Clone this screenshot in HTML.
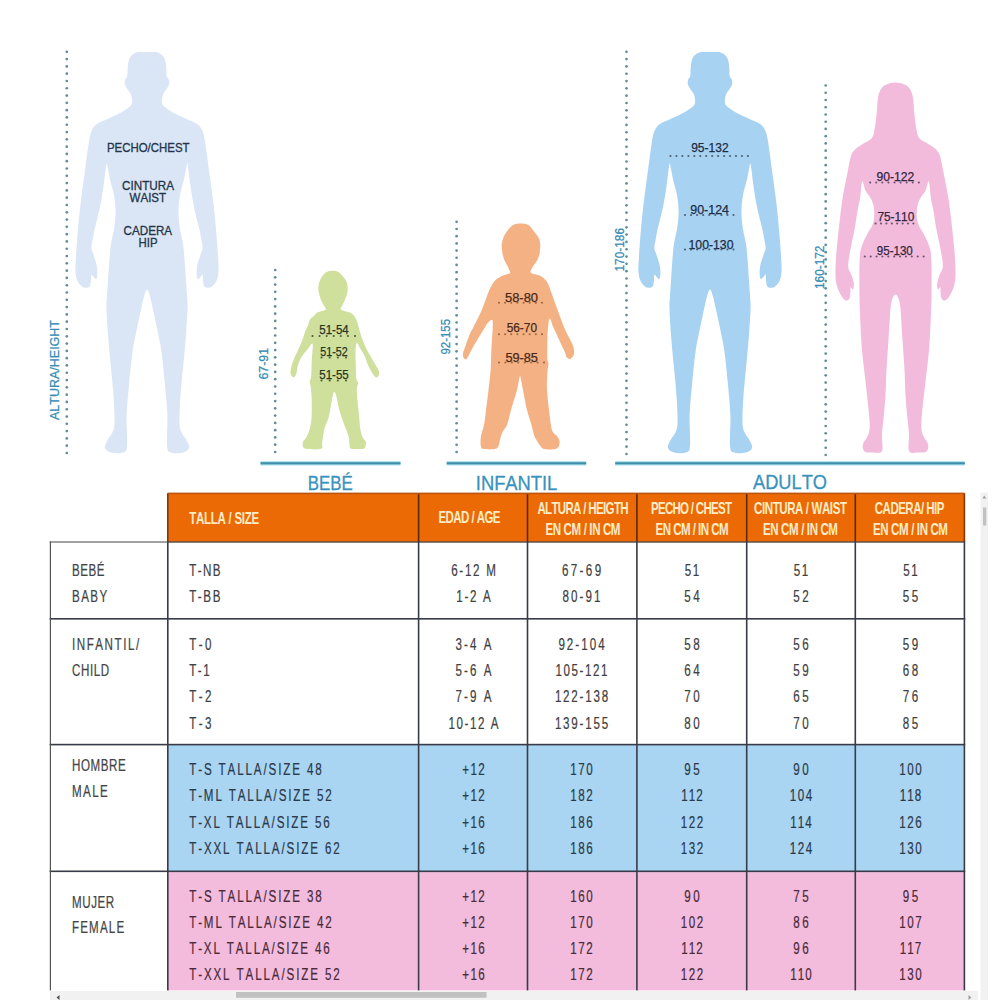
<!DOCTYPE html>
<html lang="es"><head><meta charset="utf-8"><title>Tabla de tallas</title>
<style>
html,body{margin:0;padding:0;background:#fff;width:1000px;height:1000px;overflow:hidden}
svg{display:block}
text{font-kerning:none}
</style></head><body>
<svg width="1000" height="1000" viewBox="0 0 1000 1000"><path d="M147.00,52.00 C149.00,52.00 151.23,52.02 153.00,52.10 C154.77,52.18 155.97,51.88 157.60,52.50 C159.23,53.12 161.47,54.22 162.80,55.80 C164.13,57.38 165.00,59.63 165.60,62.00 C166.20,64.37 166.20,67.58 166.40,70.00 C166.60,72.42 166.40,74.92 166.80,76.50 C167.20,78.08 168.40,78.25 168.80,79.50 C169.20,80.75 169.50,82.50 169.20,84.00 C168.90,85.50 167.95,86.92 167.00,88.50 C166.05,90.08 164.30,91.92 163.50,93.50 C162.70,95.08 162.45,96.42 162.20,98.00 C161.95,99.58 161.62,101.53 162.00,103.00 C162.38,104.47 162.75,105.27 164.50,106.80 C166.25,108.33 169.00,110.23 172.50,112.20 C176.00,114.17 181.42,116.63 185.50,118.60 C189.58,120.57 194.25,122.10 197.00,124.00 C199.75,125.90 200.70,127.33 202.00,130.00 C203.30,132.67 203.60,133.00 204.80,140.00 C206.00,147.00 207.75,161.33 209.20,172.00 C210.65,182.67 212.27,193.33 213.50,204.00 C214.73,214.67 215.82,226.67 216.60,236.00 C217.38,245.33 217.88,254.00 218.20,260.00 C218.52,266.00 218.78,268.50 218.50,272.00 C218.22,275.50 217.58,278.58 216.50,281.00 C215.42,283.42 213.45,285.37 212.00,286.50 C210.55,287.63 209.10,287.85 207.80,287.80 C206.50,287.75 205.00,287.42 204.20,286.20 C203.40,284.98 203.27,282.45 203.00,280.50 C202.73,278.55 203.03,275.08 202.60,274.50 C202.17,273.92 201.23,276.25 200.40,277.00 C199.57,277.75 198.23,279.75 197.60,279.00 C196.97,278.25 196.60,275.00 196.60,272.50 C196.60,270.00 196.93,267.00 197.60,264.00 C198.27,261.00 199.77,257.17 200.60,254.50 C201.43,251.83 202.47,250.42 202.60,248.00 C202.73,245.58 201.87,242.83 201.40,240.00 C200.93,237.17 200.43,234.00 199.80,231.00 C199.17,228.00 198.67,226.50 197.60,222.00 C196.53,217.50 194.58,210.00 193.40,204.00 C192.22,198.00 191.32,191.67 190.50,186.00 C189.68,180.33 189.02,173.75 188.50,170.00 C187.98,166.25 187.78,163.83 187.40,163.50 C187.02,163.17 186.80,165.25 186.20,168.00 C185.60,170.75 184.87,175.33 183.80,180.00 C182.73,184.67 180.70,190.67 179.80,196.00 C178.90,201.33 178.40,206.67 178.40,212.00 C178.40,217.33 179.03,222.67 179.80,228.00 C180.57,233.33 182.20,238.67 183.00,244.00 C183.80,249.33 184.07,253.33 184.60,260.00 C185.13,266.67 185.75,277.33 186.20,284.00 C186.65,290.67 187.08,295.67 187.30,300.00 C187.52,304.33 187.72,304.17 187.50,310.00 C187.28,315.83 186.65,326.33 186.00,335.00 C185.35,343.67 184.43,353.00 183.60,362.00 C182.77,371.00 181.68,380.00 181.00,389.00 C180.32,398.00 179.58,409.17 179.50,416.00 C179.42,422.83 179.25,425.83 180.50,430.00 C181.75,434.17 185.58,438.00 187.00,441.00 C188.42,444.00 189.67,446.08 189.00,448.00 C188.33,449.92 186.00,451.75 183.00,452.50 C180.00,453.25 173.67,453.58 171.00,452.50 C168.33,451.42 167.60,452.08 167.00,446.00 C166.40,439.92 167.73,426.17 167.40,416.00 C167.07,405.83 165.98,395.67 165.00,385.00 C164.02,374.33 162.67,360.67 161.50,352.00 C160.33,343.33 159.25,339.33 158.00,333.00 C156.75,326.67 155.33,320.08 154.00,314.00 C152.67,307.92 151.17,300.58 150.00,296.50 C148.83,292.42 148.00,289.50 147.00,289.50 C146.00,289.50 145.17,292.42 144.00,296.50 C142.83,300.58 141.33,307.92 140.00,314.00 C138.67,320.08 137.25,326.67 136.00,333.00 C134.75,339.33 133.67,343.33 132.50,352.00 C131.33,360.67 129.98,374.33 129.00,385.00 C128.02,395.67 126.93,405.83 126.60,416.00 C126.27,426.17 127.60,439.92 127.00,446.00 C126.40,452.08 125.67,451.42 123.00,452.50 C120.33,453.58 114.00,453.25 111.00,452.50 C108.00,451.75 105.67,449.92 105.00,448.00 C104.33,446.08 105.58,444.00 107.00,441.00 C108.42,438.00 112.25,434.17 113.50,430.00 C114.75,425.83 114.58,422.83 114.50,416.00 C114.42,409.17 113.68,398.00 113.00,389.00 C112.32,380.00 111.23,371.00 110.40,362.00 C109.57,353.00 108.65,343.67 108.00,335.00 C107.35,326.33 106.72,315.83 106.50,310.00 C106.28,304.17 106.48,304.33 106.70,300.00 C106.92,295.67 107.35,290.67 107.80,284.00 C108.25,277.33 108.87,266.67 109.40,260.00 C109.93,253.33 110.20,249.33 111.00,244.00 C111.80,238.67 113.43,233.33 114.20,228.00 C114.97,222.67 115.60,217.33 115.60,212.00 C115.60,206.67 115.10,201.33 114.20,196.00 C113.30,190.67 111.27,184.67 110.20,180.00 C109.13,175.33 108.40,170.75 107.80,168.00 C107.20,165.25 106.98,163.17 106.60,163.50 C106.22,163.83 106.02,166.25 105.50,170.00 C104.98,173.75 104.32,180.33 103.50,186.00 C102.68,191.67 101.78,198.00 100.60,204.00 C99.42,210.00 97.47,217.50 96.40,222.00 C95.33,226.50 94.83,228.00 94.20,231.00 C93.57,234.00 93.07,237.17 92.60,240.00 C92.13,242.83 91.27,245.58 91.40,248.00 C91.53,250.42 92.57,251.83 93.40,254.50 C94.23,257.17 95.73,261.00 96.40,264.00 C97.07,267.00 97.40,270.00 97.40,272.50 C97.40,275.00 97.03,278.25 96.40,279.00 C95.77,279.75 94.43,277.75 93.60,277.00 C92.77,276.25 91.83,273.92 91.40,274.50 C90.97,275.08 91.27,278.55 91.00,280.50 C90.73,282.45 90.60,284.98 89.80,286.20 C89.00,287.42 87.50,287.75 86.20,287.80 C84.90,287.85 83.45,287.63 82.00,286.50 C80.55,285.37 78.58,283.42 77.50,281.00 C76.42,278.58 75.78,275.50 75.50,272.00 C75.22,268.50 75.48,266.00 75.80,260.00 C76.12,254.00 76.62,245.33 77.40,236.00 C78.18,226.67 79.27,214.67 80.50,204.00 C81.73,193.33 83.35,182.67 84.80,172.00 C86.25,161.33 88.00,147.00 89.20,140.00 C90.40,133.00 90.70,132.67 92.00,130.00 C93.30,127.33 94.25,125.90 97.00,124.00 C99.75,122.10 104.42,120.57 108.50,118.60 C112.58,116.63 118.00,114.17 121.50,112.20 C125.00,110.23 127.75,108.33 129.50,106.80 C131.25,105.27 131.62,104.47 132.00,103.00 C132.38,101.53 132.05,99.58 131.80,98.00 C131.55,96.42 131.30,95.08 130.50,93.50 C129.70,91.92 127.95,90.08 127.00,88.50 C126.05,86.92 125.10,85.50 124.80,84.00 C124.50,82.50 124.80,80.75 125.20,79.50 C125.60,78.25 126.80,78.08 127.20,76.50 C127.60,74.92 127.40,72.42 127.60,70.00 C127.80,67.58 127.80,64.37 128.40,62.00 C129.00,59.63 129.87,57.38 131.20,55.80 C132.53,54.22 134.77,53.12 136.40,52.50 C138.03,51.88 139.23,52.18 141.00,52.10 C142.77,52.02 145.00,52.00 147.00,52.00Z" fill="#dae6f5"/>
<path d="M710.00,52.00 C712.00,52.00 714.23,52.02 716.00,52.10 C717.77,52.18 718.97,51.88 720.60,52.50 C722.23,53.12 724.47,54.22 725.80,55.80 C727.13,57.38 728.00,59.63 728.60,62.00 C729.20,64.37 729.20,67.58 729.40,70.00 C729.60,72.42 729.40,74.92 729.80,76.50 C730.20,78.08 731.40,78.25 731.80,79.50 C732.20,80.75 732.50,82.50 732.20,84.00 C731.90,85.50 730.95,86.92 730.00,88.50 C729.05,90.08 727.30,91.92 726.50,93.50 C725.70,95.08 725.45,96.42 725.20,98.00 C724.95,99.58 724.62,101.53 725.00,103.00 C725.38,104.47 725.75,105.27 727.50,106.80 C729.25,108.33 732.00,110.23 735.50,112.20 C739.00,114.17 744.42,116.63 748.50,118.60 C752.58,120.57 757.25,122.10 760.00,124.00 C762.75,125.90 763.70,127.33 765.00,130.00 C766.30,132.67 766.60,133.00 767.80,140.00 C769.00,147.00 770.75,161.33 772.20,172.00 C773.65,182.67 775.27,193.33 776.50,204.00 C777.73,214.67 778.82,226.67 779.60,236.00 C780.38,245.33 780.88,254.00 781.20,260.00 C781.52,266.00 781.78,268.50 781.50,272.00 C781.22,275.50 780.58,278.58 779.50,281.00 C778.42,283.42 776.45,285.37 775.00,286.50 C773.55,287.63 772.10,287.85 770.80,287.80 C769.50,287.75 768.00,287.42 767.20,286.20 C766.40,284.98 766.27,282.45 766.00,280.50 C765.73,278.55 766.03,275.08 765.60,274.50 C765.17,273.92 764.23,276.25 763.40,277.00 C762.57,277.75 761.23,279.75 760.60,279.00 C759.97,278.25 759.60,275.00 759.60,272.50 C759.60,270.00 759.93,267.00 760.60,264.00 C761.27,261.00 762.77,257.17 763.60,254.50 C764.43,251.83 765.47,250.42 765.60,248.00 C765.73,245.58 764.87,242.83 764.40,240.00 C763.93,237.17 763.43,234.00 762.80,231.00 C762.17,228.00 761.67,226.50 760.60,222.00 C759.53,217.50 757.58,210.00 756.40,204.00 C755.22,198.00 754.32,191.67 753.50,186.00 C752.68,180.33 752.02,173.75 751.50,170.00 C750.98,166.25 750.78,163.83 750.40,163.50 C750.02,163.17 749.80,165.25 749.20,168.00 C748.60,170.75 747.87,175.33 746.80,180.00 C745.73,184.67 743.70,190.67 742.80,196.00 C741.90,201.33 741.40,206.67 741.40,212.00 C741.40,217.33 742.03,222.67 742.80,228.00 C743.57,233.33 745.20,238.67 746.00,244.00 C746.80,249.33 747.07,253.33 747.60,260.00 C748.13,266.67 748.75,277.33 749.20,284.00 C749.65,290.67 750.08,295.67 750.30,300.00 C750.52,304.33 750.72,304.17 750.50,310.00 C750.28,315.83 749.65,326.33 749.00,335.00 C748.35,343.67 747.43,353.00 746.60,362.00 C745.77,371.00 744.68,380.00 744.00,389.00 C743.32,398.00 742.58,409.17 742.50,416.00 C742.42,422.83 742.25,425.83 743.50,430.00 C744.75,434.17 748.58,438.00 750.00,441.00 C751.42,444.00 752.67,446.08 752.00,448.00 C751.33,449.92 749.00,451.75 746.00,452.50 C743.00,453.25 736.67,453.58 734.00,452.50 C731.33,451.42 730.60,452.08 730.00,446.00 C729.40,439.92 730.73,426.17 730.40,416.00 C730.07,405.83 728.98,395.67 728.00,385.00 C727.02,374.33 725.67,360.67 724.50,352.00 C723.33,343.33 722.25,339.33 721.00,333.00 C719.75,326.67 718.33,320.08 717.00,314.00 C715.67,307.92 714.17,300.58 713.00,296.50 C711.83,292.42 711.00,289.50 710.00,289.50 C709.00,289.50 708.17,292.42 707.00,296.50 C705.83,300.58 704.33,307.92 703.00,314.00 C701.67,320.08 700.25,326.67 699.00,333.00 C697.75,339.33 696.67,343.33 695.50,352.00 C694.33,360.67 692.98,374.33 692.00,385.00 C691.02,395.67 689.93,405.83 689.60,416.00 C689.27,426.17 690.60,439.92 690.00,446.00 C689.40,452.08 688.67,451.42 686.00,452.50 C683.33,453.58 677.00,453.25 674.00,452.50 C671.00,451.75 668.67,449.92 668.00,448.00 C667.33,446.08 668.58,444.00 670.00,441.00 C671.42,438.00 675.25,434.17 676.50,430.00 C677.75,425.83 677.58,422.83 677.50,416.00 C677.42,409.17 676.68,398.00 676.00,389.00 C675.32,380.00 674.23,371.00 673.40,362.00 C672.57,353.00 671.65,343.67 671.00,335.00 C670.35,326.33 669.72,315.83 669.50,310.00 C669.28,304.17 669.48,304.33 669.70,300.00 C669.92,295.67 670.35,290.67 670.80,284.00 C671.25,277.33 671.87,266.67 672.40,260.00 C672.93,253.33 673.20,249.33 674.00,244.00 C674.80,238.67 676.43,233.33 677.20,228.00 C677.97,222.67 678.60,217.33 678.60,212.00 C678.60,206.67 678.10,201.33 677.20,196.00 C676.30,190.67 674.27,184.67 673.20,180.00 C672.13,175.33 671.40,170.75 670.80,168.00 C670.20,165.25 669.98,163.17 669.60,163.50 C669.22,163.83 669.02,166.25 668.50,170.00 C667.98,173.75 667.32,180.33 666.50,186.00 C665.68,191.67 664.78,198.00 663.60,204.00 C662.42,210.00 660.47,217.50 659.40,222.00 C658.33,226.50 657.83,228.00 657.20,231.00 C656.57,234.00 656.07,237.17 655.60,240.00 C655.13,242.83 654.27,245.58 654.40,248.00 C654.53,250.42 655.57,251.83 656.40,254.50 C657.23,257.17 658.73,261.00 659.40,264.00 C660.07,267.00 660.40,270.00 660.40,272.50 C660.40,275.00 660.03,278.25 659.40,279.00 C658.77,279.75 657.43,277.75 656.60,277.00 C655.77,276.25 654.83,273.92 654.40,274.50 C653.97,275.08 654.27,278.55 654.00,280.50 C653.73,282.45 653.60,284.98 652.80,286.20 C652.00,287.42 650.50,287.75 649.20,287.80 C647.90,287.85 646.45,287.63 645.00,286.50 C643.55,285.37 641.58,283.42 640.50,281.00 C639.42,278.58 638.78,275.50 638.50,272.00 C638.22,268.50 638.48,266.00 638.80,260.00 C639.12,254.00 639.62,245.33 640.40,236.00 C641.18,226.67 642.27,214.67 643.50,204.00 C644.73,193.33 646.35,182.67 647.80,172.00 C649.25,161.33 651.00,147.00 652.20,140.00 C653.40,133.00 653.70,132.67 655.00,130.00 C656.30,127.33 657.25,125.90 660.00,124.00 C662.75,122.10 667.42,120.57 671.50,118.60 C675.58,116.63 681.00,114.17 684.50,112.20 C688.00,110.23 690.75,108.33 692.50,106.80 C694.25,105.27 694.62,104.47 695.00,103.00 C695.38,101.53 695.05,99.58 694.80,98.00 C694.55,96.42 694.30,95.08 693.50,93.50 C692.70,91.92 690.95,90.08 690.00,88.50 C689.05,86.92 688.10,85.50 687.80,84.00 C687.50,82.50 687.80,80.75 688.20,79.50 C688.60,78.25 689.80,78.08 690.20,76.50 C690.60,74.92 690.40,72.42 690.60,70.00 C690.80,67.58 690.80,64.37 691.40,62.00 C692.00,59.63 692.87,57.38 694.20,55.80 C695.53,54.22 697.77,53.12 699.40,52.50 C701.03,51.88 702.23,52.18 704.00,52.10 C705.77,52.02 708.00,52.00 710.00,52.00Z" fill="#a7d2f2"/>
<path d="M895.50,82.60 C898.50,82.60 902.08,83.43 904.50,84.50 C906.92,85.57 908.58,86.75 910.00,89.00 C911.42,91.25 912.25,93.67 913.00,98.00 C913.75,102.33 913.92,109.67 914.50,115.00 C915.08,120.33 915.67,126.08 916.50,130.00 C917.33,133.92 917.67,136.25 919.50,138.50 C921.33,140.75 924.83,141.75 927.50,143.50 C930.17,145.25 933.42,146.92 935.50,149.00 C937.58,151.08 938.75,152.50 940.00,156.00 C941.25,159.50 941.60,163.00 943.00,170.00 C944.40,177.00 946.92,188.67 948.40,198.00 C949.88,207.33 950.85,216.67 951.90,226.00 C952.95,235.33 954.10,245.83 954.70,254.00 C955.30,262.17 955.62,269.67 955.50,275.00 C955.38,280.33 955.00,282.50 954.00,286.00 C953.00,289.50 951.00,293.58 949.50,296.00 C948.00,298.42 946.33,300.08 945.00,300.50 C943.67,300.92 942.25,299.92 941.50,298.50 C940.75,297.08 940.70,293.92 940.50,292.00 C940.30,290.08 940.70,287.42 940.30,287.00 C939.90,286.58 938.63,290.00 938.10,289.50 C937.57,289.00 936.87,286.42 937.10,284.00 C937.33,281.58 938.55,277.83 939.50,275.00 C940.45,272.17 942.48,270.50 942.80,267.00 C943.12,263.50 942.10,258.50 941.40,254.00 C940.70,249.50 939.53,244.67 938.60,240.00 C937.67,235.33 936.62,230.67 935.80,226.00 C934.98,221.33 934.52,216.67 933.70,212.00 C932.88,207.33 931.57,202.33 930.90,198.00 C930.23,193.67 930.10,188.83 929.70,186.00 C929.30,183.17 928.87,181.33 928.50,181.00 C928.13,180.67 928.03,182.33 927.50,184.00 C926.97,185.67 926.48,188.67 925.30,191.00 C924.12,193.33 921.68,195.67 920.40,198.00 C919.12,200.33 918.20,202.67 917.60,205.00 C917.00,207.33 916.90,209.67 916.80,212.00 C916.70,214.33 916.63,216.67 917.00,219.00 C917.37,221.33 917.97,223.67 919.00,226.00 C920.03,228.33 921.92,230.67 923.20,233.00 C924.48,235.33 925.65,237.67 926.70,240.00 C927.75,242.33 928.78,244.67 929.50,247.00 C930.22,249.33 930.65,250.50 931.00,254.00 C931.35,257.50 931.50,263.33 931.60,268.00 C931.70,272.67 931.62,277.33 931.60,282.00 C931.58,286.67 931.60,290.67 931.50,296.00 C931.40,301.33 931.42,305.00 931.00,314.00 C930.58,323.00 930.00,338.00 929.00,350.00 C928.00,362.00 926.25,374.33 925.00,386.00 C923.75,397.67 921.92,412.00 921.50,420.00 C921.08,428.00 921.42,430.00 922.50,434.00 C923.58,438.00 927.33,441.08 928.00,444.00 C928.67,446.92 928.25,450.08 926.50,451.50 C924.75,452.92 920.42,452.58 917.50,452.50 C914.58,452.42 910.42,454.08 909.00,451.00 C907.58,447.92 909.33,440.17 909.00,434.00 C908.67,427.83 907.58,420.50 907.00,414.00 C906.42,407.50 905.92,402.33 905.50,395.00 C905.08,387.67 905.00,379.17 904.50,370.00 C904.00,360.83 903.08,349.00 902.50,340.00 C901.92,331.00 901.40,321.83 901.00,316.00 C900.60,310.17 900.55,308.00 900.10,305.00 C899.65,302.00 899.07,299.75 898.30,298.00 C897.53,296.25 896.43,294.50 895.50,294.50 C894.57,294.50 893.47,296.25 892.70,298.00 C891.93,299.75 891.35,302.00 890.90,305.00 C890.45,308.00 890.40,310.17 890.00,316.00 C889.60,321.83 889.08,331.00 888.50,340.00 C887.92,349.00 887.00,360.83 886.50,370.00 C886.00,379.17 885.92,387.67 885.50,395.00 C885.08,402.33 884.58,407.50 884.00,414.00 C883.42,420.50 882.33,427.83 882.00,434.00 C881.67,440.17 883.42,447.92 882.00,451.00 C880.58,454.08 876.42,452.42 873.50,452.50 C870.58,452.58 866.25,452.92 864.50,451.50 C862.75,450.08 862.33,446.92 863.00,444.00 C863.67,441.08 867.42,438.00 868.50,434.00 C869.58,430.00 869.92,428.00 869.50,420.00 C869.08,412.00 867.25,397.67 866.00,386.00 C864.75,374.33 863.00,362.00 862.00,350.00 C861.00,338.00 860.42,323.00 860.00,314.00 C859.58,305.00 859.60,301.33 859.50,296.00 C859.40,290.67 859.42,286.67 859.40,282.00 C859.38,277.33 859.30,272.67 859.40,268.00 C859.50,263.33 859.65,257.50 860.00,254.00 C860.35,250.50 860.78,249.33 861.50,247.00 C862.22,244.67 863.25,242.33 864.30,240.00 C865.35,237.67 866.52,235.33 867.80,233.00 C869.08,230.67 870.97,228.33 872.00,226.00 C873.03,223.67 873.63,221.33 874.00,219.00 C874.37,216.67 874.30,214.33 874.20,212.00 C874.10,209.67 874.00,207.33 873.40,205.00 C872.80,202.67 871.88,200.33 870.60,198.00 C869.32,195.67 866.88,193.33 865.70,191.00 C864.52,188.67 864.03,185.67 863.50,184.00 C862.97,182.33 862.87,180.67 862.50,181.00 C862.13,181.33 861.70,183.17 861.30,186.00 C860.90,188.83 860.77,193.67 860.10,198.00 C859.43,202.33 858.12,207.33 857.30,212.00 C856.48,216.67 856.02,221.33 855.20,226.00 C854.38,230.67 853.33,235.33 852.40,240.00 C851.47,244.67 850.30,249.50 849.60,254.00 C848.90,258.50 847.88,263.50 848.20,267.00 C848.52,270.50 850.55,272.17 851.50,275.00 C852.45,277.83 853.67,281.58 853.90,284.00 C854.13,286.42 853.43,289.00 852.90,289.50 C852.37,290.00 851.10,286.58 850.70,287.00 C850.30,287.42 850.70,290.08 850.50,292.00 C850.30,293.92 850.25,297.08 849.50,298.50 C848.75,299.92 847.33,300.92 846.00,300.50 C844.67,300.08 843.00,298.42 841.50,296.00 C840.00,293.58 838.00,289.50 837.00,286.00 C836.00,282.50 835.62,280.33 835.50,275.00 C835.38,269.67 835.70,262.17 836.30,254.00 C836.90,245.83 838.05,235.33 839.10,226.00 C840.15,216.67 841.12,207.33 842.60,198.00 C844.08,188.67 846.60,177.00 848.00,170.00 C849.40,163.00 849.75,159.50 851.00,156.00 C852.25,152.50 853.42,151.08 855.50,149.00 C857.58,146.92 860.83,145.25 863.50,143.50 C866.17,141.75 869.67,140.75 871.50,138.50 C873.33,136.25 873.67,133.92 874.50,130.00 C875.33,126.08 875.92,120.33 876.50,115.00 C877.08,109.67 877.25,102.33 878.00,98.00 C878.75,93.67 879.58,91.25 881.00,89.00 C882.42,86.75 884.08,85.57 886.50,84.50 C888.92,83.43 892.50,82.60 895.50,82.60Z" fill="#f2bbdb"/>
<path d="M332.50,270.70 C334.50,270.70 336.75,271.05 338.50,272.00 C340.25,272.95 341.67,274.82 343.00,276.40 C344.33,277.98 345.72,279.60 346.50,281.50 C347.28,283.40 347.58,285.88 347.70,287.80 C347.82,289.72 347.52,291.42 347.20,293.00 C346.88,294.58 346.33,295.80 345.80,297.30 C345.27,298.80 344.63,300.57 344.00,302.00 C343.37,303.43 342.57,304.68 342.00,305.90 C341.43,307.12 340.10,308.40 340.60,309.30 C341.10,310.20 343.33,310.72 345.00,311.30 C346.67,311.88 349.03,311.97 350.60,312.80 C352.17,313.63 353.30,314.77 354.40,316.30 C355.50,317.83 356.27,319.38 357.20,322.00 C358.13,324.62 359.03,328.83 360.00,332.00 C360.97,335.17 361.92,338.17 363.00,341.00 C364.08,343.83 365.25,346.45 366.50,349.00 C367.75,351.55 369.08,353.80 370.50,356.30 C371.92,358.80 373.72,361.78 375.00,364.00 C376.28,366.22 377.53,367.85 378.20,369.60 C378.87,371.35 379.32,373.18 379.00,374.50 C378.68,375.82 377.38,377.68 376.30,377.50 C375.22,377.32 373.88,375.48 372.50,373.40 C371.12,371.32 369.28,367.85 368.00,365.00 C366.72,362.15 366.05,358.97 364.80,356.30 C363.55,353.63 361.83,351.22 360.50,349.00 C359.17,346.78 357.63,342.50 356.80,343.00 C355.97,343.50 355.67,348.17 355.50,352.00 C355.33,355.83 355.67,361.50 355.80,366.00 C355.93,370.50 355.90,376.25 356.30,379.00 C356.70,381.75 358.12,380.90 358.20,382.50 C358.28,384.10 356.95,386.02 356.80,388.60 C356.65,391.18 357.07,394.83 357.30,398.00 C357.53,401.17 357.88,404.43 358.20,407.60 C358.52,410.77 358.90,413.83 359.20,417.00 C359.50,420.17 359.53,423.43 360.00,426.60 C360.47,429.77 361.03,433.47 362.00,436.00 C362.97,438.53 365.22,440.13 365.80,441.80 C366.38,443.47 365.88,444.85 365.50,446.00 C365.12,447.15 365.83,448.25 363.50,448.70 C361.17,449.15 353.83,449.32 351.50,448.70 C349.17,448.08 350.00,447.12 349.50,445.00 C349.00,442.88 349.67,440.17 348.50,436.00 C347.33,431.83 344.12,424.67 342.50,420.00 C340.88,415.33 339.83,412.00 338.80,408.00 C337.77,404.00 337.02,398.67 336.30,396.00 C335.58,393.33 335.08,392.17 334.50,392.00 C333.92,391.83 333.38,392.83 332.80,395.00 C332.22,397.17 331.72,401.17 331.00,405.00 C330.28,408.83 329.57,414.17 328.50,418.00 C327.43,421.83 325.65,423.93 324.60,428.00 C323.55,432.07 322.80,438.93 322.20,442.40 C321.60,445.87 323.70,447.73 321.00,448.80 C318.30,449.87 309.00,449.27 306.00,448.80 C303.00,448.33 303.50,447.17 303.00,446.00 C302.50,444.83 302.42,443.30 303.00,441.80 C303.58,440.30 305.38,439.13 306.50,437.00 C307.62,434.87 308.85,432.33 309.70,429.00 C310.55,425.67 311.28,422.17 311.60,417.00 C311.92,411.83 311.75,403.05 311.60,398.00 C311.45,392.95 311.02,389.37 310.70,386.70 C310.38,384.03 309.62,383.78 309.70,382.00 C309.78,380.22 310.85,379.67 311.20,376.00 C311.55,372.33 311.57,365.33 311.80,360.00 C312.03,354.67 313.27,345.83 312.60,344.00 C311.93,342.17 309.57,346.95 307.80,349.00 C306.03,351.05 303.63,353.63 302.00,356.30 C300.37,358.97 298.93,362.15 298.00,365.00 C297.07,367.85 297.13,371.33 296.40,373.40 C295.67,375.47 294.55,377.30 293.60,377.40 C292.65,377.50 291.13,375.57 290.70,374.00 C290.27,372.43 290.52,370.33 291.00,368.00 C291.48,365.67 292.43,363.00 293.60,360.00 C294.77,357.00 296.60,353.17 298.00,350.00 C299.40,346.83 300.83,344.00 302.00,341.00 C303.17,338.00 304.03,334.53 305.00,332.00 C305.97,329.47 306.97,327.88 307.80,325.80 C308.63,323.72 309.05,321.08 310.00,319.50 C310.95,317.92 312.28,317.45 313.50,316.30 C314.72,315.15 315.88,313.48 317.30,312.60 C318.72,311.72 320.57,311.52 322.00,311.00 C323.43,310.48 325.48,310.25 325.90,309.50 C326.32,308.75 325.15,307.75 324.50,306.50 C323.85,305.25 322.75,303.53 322.00,302.00 C321.25,300.47 320.53,298.97 320.00,297.30 C319.47,295.63 319.08,293.58 318.80,292.00 C318.52,290.42 318.18,289.55 318.30,287.80 C318.42,286.05 318.88,283.40 319.50,281.50 C320.12,279.60 320.83,277.98 322.00,276.40 C323.17,274.82 324.75,272.95 326.50,272.00 C328.25,271.05 330.50,270.70 332.50,270.70Z" fill="#cfdf9c"/>
<path d="M521.00,223.40 C523.58,223.40 526.30,223.60 528.50,225.00 C530.70,226.40 532.53,229.72 534.20,231.80 C535.87,233.88 537.50,235.50 538.50,237.50 C539.50,239.50 539.95,241.72 540.20,243.80 C540.45,245.88 540.20,248.00 540.00,250.00 C539.80,252.00 539.58,253.88 539.00,255.80 C538.42,257.72 537.50,259.70 536.50,261.50 C535.50,263.30 533.98,264.78 533.00,266.60 C532.02,268.42 530.10,271.08 530.60,272.40 C531.10,273.72 534.20,273.83 536.00,274.50 C537.80,275.17 539.52,275.12 541.40,276.40 C543.28,277.68 545.70,279.63 547.30,282.20 C548.90,284.77 549.80,288.58 551.00,291.80 C552.20,295.02 553.33,298.30 554.50,301.50 C555.67,304.70 556.83,307.83 558.00,311.00 C559.17,314.17 560.28,317.33 561.50,320.50 C562.72,323.67 564.05,327.17 565.30,330.00 C566.55,332.83 567.80,335.08 569.00,337.50 C570.20,339.92 571.67,342.42 572.50,344.50 C573.33,346.58 573.80,348.25 574.00,350.00 C574.20,351.75 574.37,353.50 573.70,355.00 C573.03,356.50 571.20,358.67 570.00,359.00 C568.80,359.33 567.28,358.00 566.50,357.00 C565.72,356.00 566.22,355.17 565.30,353.00 C564.38,350.83 562.38,347.00 561.00,344.00 C559.62,341.00 558.33,337.92 557.00,335.00 C555.67,332.08 554.22,329.25 553.00,326.50 C551.78,323.75 550.57,317.92 549.70,318.50 C548.83,319.08 548.20,325.58 547.80,330.00 C547.40,334.42 547.38,340.17 547.30,345.00 C547.22,349.83 547.10,355.88 547.30,359.00 C547.50,362.12 548.47,361.70 548.50,363.70 C548.53,365.70 547.75,368.28 547.50,371.00 C547.25,373.72 547.08,376.83 547.00,380.00 C546.92,383.17 546.67,385.00 547.00,390.00 C547.33,395.00 548.17,403.33 549.00,410.00 C549.83,416.67 550.67,425.67 552.00,430.00 C553.33,434.33 555.75,434.17 557.00,436.00 C558.25,437.83 559.25,439.17 559.50,441.00 C559.75,442.83 559.42,445.63 558.50,447.00 C557.58,448.37 556.42,448.87 554.00,449.20 C551.58,449.53 546.33,449.62 544.00,449.00 C541.67,448.38 541.25,447.00 540.00,445.50 C538.75,444.00 537.50,441.75 536.50,440.00 C535.50,438.25 534.83,437.50 534.00,435.00 C533.17,432.50 532.67,429.17 531.50,425.00 C530.33,420.83 528.42,415.83 527.00,410.00 C525.58,404.17 524.00,395.08 523.00,390.00 C522.00,384.92 521.50,381.83 521.00,379.50 C520.50,377.17 520.33,376.00 520.00,376.00 C519.67,376.00 519.50,377.17 519.00,379.50 C518.50,381.83 518.33,384.92 517.00,390.00 C515.67,395.08 512.67,404.17 511.00,410.00 C509.33,415.83 508.42,421.33 507.00,425.00 C505.58,428.67 503.67,429.50 502.50,432.00 C501.33,434.50 500.67,437.67 500.00,440.00 C499.33,442.33 499.33,444.50 498.50,446.00 C497.67,447.50 497.42,448.50 495.00,449.00 C492.58,449.50 486.37,449.50 484.00,449.00 C481.63,448.50 481.30,448.17 480.80,446.00 C480.30,443.83 480.47,439.50 481.00,436.00 C481.53,432.50 483.17,429.33 484.00,425.00 C484.83,420.67 485.25,415.83 486.00,410.00 C486.75,404.17 487.75,396.33 488.50,390.00 C489.25,383.67 490.08,376.78 490.50,372.00 C490.92,367.22 490.82,365.80 491.00,361.30 C491.18,356.80 491.33,350.22 491.60,345.00 C491.87,339.78 492.50,334.17 492.60,330.00 C492.70,325.83 493.13,321.00 492.20,320.00 C491.27,319.00 488.37,322.50 487.00,324.00 C485.63,325.50 485.13,327.17 484.00,329.00 C482.87,330.83 481.53,332.83 480.20,335.00 C478.87,337.17 477.28,339.83 476.00,342.00 C474.72,344.17 473.60,346.00 472.50,348.00 C471.40,350.00 470.40,352.17 469.40,354.00 C468.40,355.83 467.43,358.33 466.50,359.00 C465.57,359.67 464.38,359.00 463.80,358.00 C463.22,357.00 462.72,355.00 463.00,353.00 C463.28,351.00 464.43,349.00 465.50,346.00 C466.57,343.00 468.07,338.17 469.40,335.00 C470.73,331.83 472.15,329.67 473.50,327.00 C474.85,324.33 476.18,321.67 477.50,319.00 C478.82,316.33 480.15,313.92 481.40,311.00 C482.65,308.08 483.80,304.70 485.00,301.50 C486.20,298.30 487.43,294.55 488.60,291.80 C489.77,289.05 490.80,287.00 492.00,285.00 C493.20,283.00 493.97,281.38 495.80,279.80 C497.63,278.22 500.97,276.47 503.00,275.50 C505.03,274.53 506.80,274.52 508.00,274.00 C509.20,273.48 510.03,273.15 510.20,272.40 C510.37,271.65 509.40,270.47 509.00,269.50 C508.60,268.53 508.47,267.93 507.80,266.60 C507.13,265.27 505.80,263.30 505.00,261.50 C504.20,259.70 503.50,257.72 503.00,255.80 C502.50,253.88 502.20,252.00 502.00,250.00 C501.80,248.00 501.55,245.88 501.80,243.80 C502.05,241.72 502.70,239.50 503.50,237.50 C504.30,235.50 505.02,233.88 506.60,231.80 C508.18,229.72 510.60,226.40 513.00,225.00 C515.40,223.60 518.42,223.40 521.00,223.40Z" fill="#f4b184"/>
<g fill="#658c96"><circle cx="66.80" cy="51.80" r="1.35"/><circle cx="66.80" cy="59.09" r="1.35"/><circle cx="66.80" cy="66.39" r="1.35"/><circle cx="66.80" cy="73.68" r="1.35"/><circle cx="66.80" cy="80.98" r="1.35"/><circle cx="66.80" cy="88.27" r="1.35"/><circle cx="66.80" cy="95.57" r="1.35"/><circle cx="66.80" cy="102.86" r="1.35"/><circle cx="66.80" cy="110.16" r="1.35"/><circle cx="66.80" cy="117.45" r="1.35"/><circle cx="66.80" cy="124.75" r="1.35"/><circle cx="66.80" cy="132.04" r="1.35"/><circle cx="66.80" cy="139.33" r="1.35"/><circle cx="66.80" cy="146.63" r="1.35"/><circle cx="66.80" cy="153.92" r="1.35"/><circle cx="66.80" cy="161.22" r="1.35"/><circle cx="66.80" cy="168.51" r="1.35"/><circle cx="66.80" cy="175.81" r="1.35"/><circle cx="66.80" cy="183.10" r="1.35"/><circle cx="66.80" cy="190.40" r="1.35"/><circle cx="66.80" cy="197.69" r="1.35"/><circle cx="66.80" cy="204.99" r="1.35"/><circle cx="66.80" cy="212.28" r="1.35"/><circle cx="66.80" cy="219.57" r="1.35"/><circle cx="66.80" cy="226.87" r="1.35"/><circle cx="66.80" cy="234.16" r="1.35"/><circle cx="66.80" cy="241.46" r="1.35"/><circle cx="66.80" cy="248.75" r="1.35"/><circle cx="66.80" cy="256.05" r="1.35"/><circle cx="66.80" cy="263.34" r="1.35"/><circle cx="66.80" cy="270.64" r="1.35"/><circle cx="66.80" cy="277.93" r="1.35"/><circle cx="66.80" cy="285.23" r="1.35"/><circle cx="66.80" cy="292.52" r="1.35"/><circle cx="66.80" cy="299.81" r="1.35"/><circle cx="66.80" cy="307.11" r="1.35"/><circle cx="66.80" cy="314.40" r="1.35"/><circle cx="66.80" cy="321.70" r="1.35"/><circle cx="66.80" cy="328.99" r="1.35"/><circle cx="66.80" cy="336.29" r="1.35"/><circle cx="66.80" cy="343.58" r="1.35"/><circle cx="66.80" cy="350.88" r="1.35"/><circle cx="66.80" cy="358.17" r="1.35"/><circle cx="66.80" cy="365.47" r="1.35"/><circle cx="66.80" cy="372.76" r="1.35"/><circle cx="66.80" cy="380.05" r="1.35"/><circle cx="66.80" cy="387.35" r="1.35"/><circle cx="66.80" cy="394.64" r="1.35"/><circle cx="66.80" cy="401.94" r="1.35"/><circle cx="66.80" cy="409.23" r="1.35"/><circle cx="66.80" cy="416.53" r="1.35"/><circle cx="66.80" cy="423.82" r="1.35"/><circle cx="66.80" cy="431.12" r="1.35"/><circle cx="66.80" cy="438.41" r="1.35"/><circle cx="66.80" cy="445.71" r="1.35"/><circle cx="66.80" cy="453.00" r="1.35"/></g>
<g fill="#658c96"><circle cx="275.20" cy="270.00" r="1.35"/><circle cx="275.20" cy="277.28" r="1.35"/><circle cx="275.20" cy="284.56" r="1.35"/><circle cx="275.20" cy="291.84" r="1.35"/><circle cx="275.20" cy="299.12" r="1.35"/><circle cx="275.20" cy="306.40" r="1.35"/><circle cx="275.20" cy="313.68" r="1.35"/><circle cx="275.20" cy="320.96" r="1.35"/><circle cx="275.20" cy="328.24" r="1.35"/><circle cx="275.20" cy="335.52" r="1.35"/><circle cx="275.20" cy="342.80" r="1.35"/><circle cx="275.20" cy="350.08" r="1.35"/><circle cx="275.20" cy="357.36" r="1.35"/><circle cx="275.20" cy="364.64" r="1.35"/><circle cx="275.20" cy="371.92" r="1.35"/><circle cx="275.20" cy="379.20" r="1.35"/><circle cx="275.20" cy="386.48" r="1.35"/><circle cx="275.20" cy="393.76" r="1.35"/><circle cx="275.20" cy="401.04" r="1.35"/><circle cx="275.20" cy="408.32" r="1.35"/><circle cx="275.20" cy="415.60" r="1.35"/><circle cx="275.20" cy="422.88" r="1.35"/><circle cx="275.20" cy="430.16" r="1.35"/><circle cx="275.20" cy="437.44" r="1.35"/><circle cx="275.20" cy="444.72" r="1.35"/><circle cx="275.20" cy="452.00" r="1.35"/></g>
<g fill="#658c96"><circle cx="456.60" cy="221.80" r="1.35"/><circle cx="456.60" cy="228.99" r="1.35"/><circle cx="456.60" cy="236.19" r="1.35"/><circle cx="456.60" cy="243.38" r="1.35"/><circle cx="456.60" cy="250.58" r="1.35"/><circle cx="456.60" cy="257.77" r="1.35"/><circle cx="456.60" cy="264.96" r="1.35"/><circle cx="456.60" cy="272.16" r="1.35"/><circle cx="456.60" cy="279.35" r="1.35"/><circle cx="456.60" cy="286.54" r="1.35"/><circle cx="456.60" cy="293.74" r="1.35"/><circle cx="456.60" cy="300.93" r="1.35"/><circle cx="456.60" cy="308.12" r="1.35"/><circle cx="456.60" cy="315.32" r="1.35"/><circle cx="456.60" cy="322.51" r="1.35"/><circle cx="456.60" cy="329.71" r="1.35"/><circle cx="456.60" cy="336.90" r="1.35"/><circle cx="456.60" cy="344.09" r="1.35"/><circle cx="456.60" cy="351.29" r="1.35"/><circle cx="456.60" cy="358.48" r="1.35"/><circle cx="456.60" cy="365.68" r="1.35"/><circle cx="456.60" cy="372.87" r="1.35"/><circle cx="456.60" cy="380.06" r="1.35"/><circle cx="456.60" cy="387.26" r="1.35"/><circle cx="456.60" cy="394.45" r="1.35"/><circle cx="456.60" cy="401.64" r="1.35"/><circle cx="456.60" cy="408.84" r="1.35"/><circle cx="456.60" cy="416.03" r="1.35"/><circle cx="456.60" cy="423.23" r="1.35"/><circle cx="456.60" cy="430.42" r="1.35"/><circle cx="456.60" cy="437.61" r="1.35"/><circle cx="456.60" cy="444.81" r="1.35"/><circle cx="456.60" cy="452.00" r="1.35"/></g>
<g fill="#658c96"><circle cx="626.50" cy="51.80" r="1.35"/><circle cx="626.50" cy="59.11" r="1.35"/><circle cx="626.50" cy="66.43" r="1.35"/><circle cx="626.50" cy="73.74" r="1.35"/><circle cx="626.50" cy="81.05" r="1.35"/><circle cx="626.50" cy="88.36" r="1.35"/><circle cx="626.50" cy="95.68" r="1.35"/><circle cx="626.50" cy="102.99" r="1.35"/><circle cx="626.50" cy="110.30" r="1.35"/><circle cx="626.50" cy="117.61" r="1.35"/><circle cx="626.50" cy="124.93" r="1.35"/><circle cx="626.50" cy="132.24" r="1.35"/><circle cx="626.50" cy="139.55" r="1.35"/><circle cx="626.50" cy="146.87" r="1.35"/><circle cx="626.50" cy="154.18" r="1.35"/><circle cx="626.50" cy="161.49" r="1.35"/><circle cx="626.50" cy="168.80" r="1.35"/><circle cx="626.50" cy="176.12" r="1.35"/><circle cx="626.50" cy="183.43" r="1.35"/><circle cx="626.50" cy="190.74" r="1.35"/><circle cx="626.50" cy="198.05" r="1.35"/><circle cx="626.50" cy="205.37" r="1.35"/><circle cx="626.50" cy="212.68" r="1.35"/><circle cx="626.50" cy="219.99" r="1.35"/><circle cx="626.50" cy="227.31" r="1.35"/><circle cx="626.50" cy="234.62" r="1.35"/><circle cx="626.50" cy="241.93" r="1.35"/><circle cx="626.50" cy="249.24" r="1.35"/><circle cx="626.50" cy="256.56" r="1.35"/><circle cx="626.50" cy="263.87" r="1.35"/><circle cx="626.50" cy="271.18" r="1.35"/><circle cx="626.50" cy="278.49" r="1.35"/><circle cx="626.50" cy="285.81" r="1.35"/><circle cx="626.50" cy="293.12" r="1.35"/><circle cx="626.50" cy="300.43" r="1.35"/><circle cx="626.50" cy="307.75" r="1.35"/><circle cx="626.50" cy="315.06" r="1.35"/><circle cx="626.50" cy="322.37" r="1.35"/><circle cx="626.50" cy="329.68" r="1.35"/><circle cx="626.50" cy="337.00" r="1.35"/><circle cx="626.50" cy="344.31" r="1.35"/><circle cx="626.50" cy="351.62" r="1.35"/><circle cx="626.50" cy="358.93" r="1.35"/><circle cx="626.50" cy="366.25" r="1.35"/><circle cx="626.50" cy="373.56" r="1.35"/><circle cx="626.50" cy="380.87" r="1.35"/><circle cx="626.50" cy="388.19" r="1.35"/><circle cx="626.50" cy="395.50" r="1.35"/><circle cx="626.50" cy="402.81" r="1.35"/><circle cx="626.50" cy="410.12" r="1.35"/><circle cx="626.50" cy="417.44" r="1.35"/><circle cx="626.50" cy="424.75" r="1.35"/><circle cx="626.50" cy="432.06" r="1.35"/><circle cx="626.50" cy="439.37" r="1.35"/><circle cx="626.50" cy="446.69" r="1.35"/><circle cx="626.50" cy="454.00" r="1.35"/></g>
<g fill="#658c96"><circle cx="825.70" cy="85.50" r="1.35"/><circle cx="825.70" cy="92.75" r="1.35"/><circle cx="825.70" cy="99.99" r="1.35"/><circle cx="825.70" cy="107.24" r="1.35"/><circle cx="825.70" cy="114.48" r="1.35"/><circle cx="825.70" cy="121.73" r="1.35"/><circle cx="825.70" cy="128.97" r="1.35"/><circle cx="825.70" cy="136.22" r="1.35"/><circle cx="825.70" cy="143.46" r="1.35"/><circle cx="825.70" cy="150.71" r="1.35"/><circle cx="825.70" cy="157.95" r="1.35"/><circle cx="825.70" cy="165.20" r="1.35"/><circle cx="825.70" cy="172.44" r="1.35"/><circle cx="825.70" cy="179.69" r="1.35"/><circle cx="825.70" cy="186.93" r="1.35"/><circle cx="825.70" cy="194.18" r="1.35"/><circle cx="825.70" cy="201.42" r="1.35"/><circle cx="825.70" cy="208.67" r="1.35"/><circle cx="825.70" cy="215.91" r="1.35"/><circle cx="825.70" cy="223.16" r="1.35"/><circle cx="825.70" cy="230.40" r="1.35"/><circle cx="825.70" cy="237.65" r="1.35"/><circle cx="825.70" cy="244.89" r="1.35"/><circle cx="825.70" cy="252.14" r="1.35"/><circle cx="825.70" cy="259.38" r="1.35"/><circle cx="825.70" cy="266.63" r="1.35"/><circle cx="825.70" cy="273.87" r="1.35"/><circle cx="825.70" cy="281.12" r="1.35"/><circle cx="825.70" cy="288.36" r="1.35"/><circle cx="825.70" cy="295.61" r="1.35"/><circle cx="825.70" cy="302.85" r="1.35"/><circle cx="825.70" cy="310.10" r="1.35"/><circle cx="825.70" cy="317.34" r="1.35"/><circle cx="825.70" cy="324.59" r="1.35"/><circle cx="825.70" cy="331.83" r="1.35"/><circle cx="825.70" cy="339.08" r="1.35"/><circle cx="825.70" cy="346.32" r="1.35"/><circle cx="825.70" cy="353.57" r="1.35"/><circle cx="825.70" cy="360.81" r="1.35"/><circle cx="825.70" cy="368.06" r="1.35"/><circle cx="825.70" cy="375.30" r="1.35"/><circle cx="825.70" cy="382.55" r="1.35"/><circle cx="825.70" cy="389.79" r="1.35"/><circle cx="825.70" cy="397.04" r="1.35"/><circle cx="825.70" cy="404.28" r="1.35"/><circle cx="825.70" cy="411.53" r="1.35"/><circle cx="825.70" cy="418.77" r="1.35"/><circle cx="825.70" cy="426.02" r="1.35"/><circle cx="825.70" cy="433.26" r="1.35"/><circle cx="825.70" cy="440.51" r="1.35"/><circle cx="825.70" cy="447.75" r="1.35"/><circle cx="825.70" cy="455.00" r="1.35"/></g>
<text transform="translate(59.30,420.00) rotate(-90)" x="0" y="0" font-size="13.00" fill="#358cb4" font-family="Liberation Sans, sans-serif" textLength="100.00" lengthAdjust="spacingAndGlyphs" stroke="#358cb4" stroke-width="0.25">ALTURA/HEIGHT</text>
<text transform="translate(268.20,379.50) rotate(-90)" x="0" y="0" font-size="13.20" fill="#358cb4" font-family="Liberation Sans, sans-serif" textLength="31.50" lengthAdjust="spacingAndGlyphs" stroke="#358cb4" stroke-width="0.25">67-91</text>
<text transform="translate(450.30,354.50) rotate(-90)" x="0" y="0" font-size="12.50" fill="#358cb4" font-family="Liberation Sans, sans-serif" textLength="35.50" lengthAdjust="spacingAndGlyphs" stroke="#358cb4" stroke-width="0.25">92-155</text>
<text transform="translate(623.60,271.50) rotate(-90)" x="0" y="0" font-size="12.00" fill="#358cb4" font-family="Liberation Sans, sans-serif" textLength="43.50" lengthAdjust="spacingAndGlyphs" stroke="#358cb4" stroke-width="0.25">170-186</text>
<text transform="translate(824.00,289.00) rotate(-90)" x="0" y="0" font-size="12.50" fill="#358cb4" font-family="Liberation Sans, sans-serif" textLength="43.40" lengthAdjust="spacingAndGlyphs" stroke="#358cb4" stroke-width="0.25">160-172</text>
<text x="107.00" y="152.20" font-size="12.40" fill="#24344a" font-family="Liberation Sans, sans-serif" textLength="82.50" lengthAdjust="spacingAndGlyphs" stroke="#24344a" stroke-width="0.3">PECHO/CHEST</text>
<text x="122.00" y="190.20" font-size="12.40" fill="#24344a" font-family="Liberation Sans, sans-serif" textLength="52.00" lengthAdjust="spacingAndGlyphs" stroke="#24344a" stroke-width="0.3">CINTURA</text>
<text x="129.60" y="202.20" font-size="12.40" fill="#24344a" font-family="Liberation Sans, sans-serif" textLength="36.50" lengthAdjust="spacingAndGlyphs" stroke="#24344a" stroke-width="0.3">WAIST</text>
<text x="123.60" y="234.80" font-size="12.40" fill="#24344a" font-family="Liberation Sans, sans-serif" textLength="48.50" lengthAdjust="spacingAndGlyphs" stroke="#24344a" stroke-width="0.3">CADERA</text>
<text x="138.60" y="246.50" font-size="12.40" fill="#24344a" font-family="Liberation Sans, sans-serif" textLength="19.00" lengthAdjust="spacingAndGlyphs" stroke="#24344a" stroke-width="0.3">HIP</text>
<text x="691.20" y="151.50" font-size="12.50" fill="#1c2d45" font-family="Liberation Sans, sans-serif" textLength="37.40" lengthAdjust="spacingAndGlyphs" stroke="#1c2d45" stroke-width="0.25">95-132</text><g fill="#4d5e72"><circle cx="670.50" cy="156.00" r="1.05"/><circle cx="676.45" cy="156.00" r="1.05"/><circle cx="682.41" cy="156.00" r="1.05"/><circle cx="688.36" cy="156.00" r="1.05"/><circle cx="694.32" cy="156.00" r="1.05"/><circle cx="700.27" cy="156.00" r="1.05"/><circle cx="706.22" cy="156.00" r="1.05"/><circle cx="712.18" cy="156.00" r="1.05"/><circle cx="718.13" cy="156.00" r="1.05"/><circle cx="724.08" cy="156.00" r="1.05"/><circle cx="730.04" cy="156.00" r="1.05"/><circle cx="735.99" cy="156.00" r="1.05"/><circle cx="741.95" cy="156.00" r="1.05"/><circle cx="747.90" cy="156.00" r="1.05"/></g>
<text x="690.30" y="213.80" font-size="12.50" fill="#1c2d45" font-family="Liberation Sans, sans-serif" textLength="38.70" lengthAdjust="spacingAndGlyphs" stroke="#1c2d45" stroke-width="0.25">90-124</text><g fill="#4d5e72"><circle cx="685.00" cy="215.00" r="1.05"/><circle cx="691.06" cy="215.00" r="1.05"/><circle cx="697.12" cy="215.00" r="1.05"/><circle cx="703.19" cy="215.00" r="1.05"/><circle cx="709.25" cy="215.00" r="1.05"/><circle cx="715.31" cy="215.00" r="1.05"/><circle cx="721.38" cy="215.00" r="1.05"/><circle cx="727.44" cy="215.00" r="1.05"/><circle cx="733.50" cy="215.00" r="1.05"/></g>
<text x="688.50" y="248.70" font-size="12.50" fill="#1c2d45" font-family="Liberation Sans, sans-serif" textLength="45.00" lengthAdjust="spacingAndGlyphs" stroke="#1c2d45" stroke-width="0.25">100-130</text><g fill="#4d5e72"><circle cx="685.00" cy="249.50" r="1.05"/><circle cx="691.06" cy="249.50" r="1.05"/><circle cx="697.12" cy="249.50" r="1.05"/><circle cx="703.19" cy="249.50" r="1.05"/><circle cx="709.25" cy="249.50" r="1.05"/><circle cx="715.31" cy="249.50" r="1.05"/><circle cx="721.38" cy="249.50" r="1.05"/><circle cx="727.44" cy="249.50" r="1.05"/><circle cx="733.50" cy="249.50" r="1.05"/></g>
<text x="876.50" y="180.70" font-size="12.50" fill="#33253f" font-family="Liberation Sans, sans-serif" textLength="37.80" lengthAdjust="spacingAndGlyphs" stroke="#33253f" stroke-width="0.25">90-122</text><g fill="#6a5070"><circle cx="870.20" cy="182.50" r="1.05"/><circle cx="876.28" cy="182.50" r="1.05"/><circle cx="882.35" cy="182.50" r="1.05"/><circle cx="888.42" cy="182.50" r="1.05"/><circle cx="894.50" cy="182.50" r="1.05"/><circle cx="900.58" cy="182.50" r="1.05"/><circle cx="906.65" cy="182.50" r="1.05"/><circle cx="912.72" cy="182.50" r="1.05"/><circle cx="918.80" cy="182.50" r="1.05"/></g>
<text x="877.40" y="221.00" font-size="12.50" fill="#33253f" font-family="Liberation Sans, sans-serif" textLength="36.90" lengthAdjust="spacingAndGlyphs" stroke="#33253f" stroke-width="0.25">75-110</text><g fill="#6a5070"><circle cx="875.60" cy="223.50" r="1.05"/><circle cx="881.00" cy="223.50" r="1.05"/><circle cx="886.40" cy="223.50" r="1.05"/><circle cx="891.80" cy="223.50" r="1.05"/><circle cx="897.20" cy="223.50" r="1.05"/><circle cx="902.60" cy="223.50" r="1.05"/><circle cx="908.00" cy="223.50" r="1.05"/><circle cx="913.40" cy="223.50" r="1.05"/></g>
<text x="876.80" y="255.00" font-size="12.50" fill="#33253f" font-family="Liberation Sans, sans-serif" textLength="36.00" lengthAdjust="spacingAndGlyphs" stroke="#33253f" stroke-width="0.25">95-130</text><g fill="#6a5070"><circle cx="864.80" cy="256.50" r="1.05"/><circle cx="870.68" cy="256.50" r="1.05"/><circle cx="876.56" cy="256.50" r="1.05"/><circle cx="882.44" cy="256.50" r="1.05"/><circle cx="888.32" cy="256.50" r="1.05"/><circle cx="894.20" cy="256.50" r="1.05"/><circle cx="900.08" cy="256.50" r="1.05"/><circle cx="905.96" cy="256.50" r="1.05"/><circle cx="911.84" cy="256.50" r="1.05"/><circle cx="917.72" cy="256.50" r="1.05"/><circle cx="923.60" cy="256.50" r="1.05"/></g>
<text x="319.30" y="333.50" font-size="12.50" fill="#26331c" font-family="Liberation Sans, sans-serif" textLength="29.40" lengthAdjust="spacingAndGlyphs" stroke="#26331c" stroke-width="0.25">51-54</text><g fill="#4c5c3a"><circle cx="312.50" cy="336.00" r="1.05"/><circle cx="319.58" cy="336.00" r="1.05"/><circle cx="326.67" cy="336.00" r="1.05"/><circle cx="333.75" cy="336.00" r="1.05"/><circle cx="340.83" cy="336.00" r="1.05"/><circle cx="347.92" cy="336.00" r="1.05"/><circle cx="355.00" cy="336.00" r="1.05"/></g>
<text x="320.30" y="355.50" font-size="12.50" fill="#26331c" font-family="Liberation Sans, sans-serif" textLength="27.30" lengthAdjust="spacingAndGlyphs" stroke="#26331c" stroke-width="0.25">51-52</text><g fill="#4c5c3a"><circle cx="321.50" cy="357.50" r="1.05"/><circle cx="329.67" cy="357.50" r="1.05"/><circle cx="337.83" cy="357.50" r="1.05"/><circle cx="346.00" cy="357.50" r="1.05"/></g>
<text x="319.30" y="378.60" font-size="12.50" fill="#26331c" font-family="Liberation Sans, sans-serif" textLength="29.40" lengthAdjust="spacingAndGlyphs" stroke="#26331c" stroke-width="0.25">51-55</text><g fill="#4c5c3a"><circle cx="321.50" cy="380.50" r="1.05"/><circle cx="329.67" cy="380.50" r="1.05"/><circle cx="337.83" cy="380.50" r="1.05"/><circle cx="346.00" cy="380.50" r="1.05"/></g>
<text x="505.00" y="302.00" font-size="12.50" fill="#4a2818" font-family="Liberation Sans, sans-serif" textLength="33.00" lengthAdjust="spacingAndGlyphs" stroke="#4a2818" stroke-width="0.25">58-80</text><g fill="#9a6a40"><circle cx="499.00" cy="302.80" r="1.05"/><circle cx="505.14" cy="302.80" r="1.05"/><circle cx="511.29" cy="302.80" r="1.05"/><circle cx="517.43" cy="302.80" r="1.05"/><circle cx="523.57" cy="302.80" r="1.05"/><circle cx="529.71" cy="302.80" r="1.05"/><circle cx="535.86" cy="302.80" r="1.05"/><circle cx="542.00" cy="302.80" r="1.05"/></g>
<text x="506.70" y="332.20" font-size="12.50" fill="#4a2818" font-family="Liberation Sans, sans-serif" textLength="30.30" lengthAdjust="spacingAndGlyphs" stroke="#4a2818" stroke-width="0.25">56-70</text><g fill="#9a6a40"><circle cx="499.00" cy="334.30" r="1.05"/><circle cx="505.14" cy="334.30" r="1.05"/><circle cx="511.29" cy="334.30" r="1.05"/><circle cx="517.43" cy="334.30" r="1.05"/><circle cx="523.57" cy="334.30" r="1.05"/><circle cx="529.71" cy="334.30" r="1.05"/><circle cx="535.86" cy="334.30" r="1.05"/><circle cx="542.00" cy="334.30" r="1.05"/></g>
<text x="505.40" y="362.00" font-size="12.50" fill="#4a2818" font-family="Liberation Sans, sans-serif" textLength="32.50" lengthAdjust="spacingAndGlyphs" stroke="#4a2818" stroke-width="0.25">59-85</text><g fill="#9a6a40"><circle cx="499.00" cy="362.50" r="1.05"/><circle cx="505.43" cy="362.50" r="1.05"/><circle cx="511.86" cy="362.50" r="1.05"/><circle cx="518.29" cy="362.50" r="1.05"/><circle cx="524.71" cy="362.50" r="1.05"/><circle cx="531.14" cy="362.50" r="1.05"/><circle cx="537.57" cy="362.50" r="1.05"/><circle cx="544.00" cy="362.50" r="1.05"/></g>
<rect x="260.50" y="461.00" width="140.00" height="4.60" fill="#b3e4f2"/>
<rect x="260.50" y="462.20" width="140.00" height="2.20" fill="#3f8faa"/>
<rect x="446.70" y="461.00" width="139.50" height="4.60" fill="#b3e4f2"/>
<rect x="446.70" y="462.20" width="139.50" height="2.20" fill="#3f8faa"/>
<rect x="615.20" y="461.00" width="349.60" height="4.60" fill="#b3e4f2"/>
<rect x="615.20" y="462.20" width="349.60" height="2.20" fill="#3f8faa"/>
<text x="307.80" y="489.60" font-size="20.30" fill="#3892bd" font-family="Liberation Sans, sans-serif" textLength="45.00" lengthAdjust="spacingAndGlyphs" stroke="#3892bd" stroke-width="0.3">BEBÉ</text>
<text x="475.80" y="489.60" font-size="20.30" fill="#3892bd" font-family="Liberation Sans, sans-serif" textLength="81.50" lengthAdjust="spacingAndGlyphs" stroke="#3892bd" stroke-width="0.3">INFANTIL</text>
<text x="753.00" y="489.40" font-size="20.30" fill="#3892bd" font-family="Liberation Sans, sans-serif" textLength="74.00" lengthAdjust="spacingAndGlyphs" stroke="#3892bd" stroke-width="0.3">ADULTO</text>
<rect x="167.80" y="493.20" width="796.60" height="48.80" fill="#ec6a05"/>
<rect x="167.80" y="744.60" width="796.60" height="126.70" fill="#a9d4f2"/>
<rect x="167.80" y="871.30" width="796.60" height="119.10" fill="#f3bcdc"/>
<rect x="417.80" y="493.20" width="1.60" height="48.80" fill="#5a2a08"/>
<rect x="526.70" y="493.20" width="1.60" height="48.80" fill="#5a2a08"/>
<rect x="636.10" y="493.20" width="1.60" height="48.80" fill="#5a2a08"/>
<rect x="745.90" y="493.20" width="1.60" height="48.80" fill="#5a2a08"/>
<rect x="854.50" y="493.20" width="1.60" height="48.80" fill="#5a2a08"/>
<rect x="167.00" y="493.20" width="1.60" height="48.80" fill="#7a3a0a"/>
<rect x="963.60" y="493.20" width="1.60" height="48.80" fill="#7a3a0a"/>
<rect x="167.80" y="492.60" width="796.60" height="1.60" fill="#b9560f"/>
<rect x="49.80" y="541.40" width="117.40" height="1.20" fill="#666666"/>
<rect x="167.80" y="541.30" width="796.60" height="1.40" fill="#5a4a40"/>
<rect x="49.60" y="618.00" width="915.60" height="1.60" fill="#383b48"/>
<rect x="49.60" y="743.80" width="915.60" height="1.60" fill="#383b48"/>
<rect x="49.60" y="870.50" width="915.60" height="1.60" fill="#383b48"/>
<rect x="167.00" y="541.20" width="1.60" height="449.20" fill="#383b48"/>
<rect x="417.80" y="541.20" width="1.60" height="449.20" fill="#383b48"/>
<rect x="526.70" y="541.20" width="1.60" height="449.20" fill="#383b48"/>
<rect x="636.10" y="541.20" width="1.60" height="449.20" fill="#383b48"/>
<rect x="745.90" y="541.20" width="1.60" height="449.20" fill="#383b48"/>
<rect x="854.50" y="541.20" width="1.60" height="449.20" fill="#383b48"/>
<rect x="963.60" y="541.20" width="1.60" height="449.20" fill="#383b48"/>
<rect x="49.80" y="541.40" width="1.20" height="449.00" fill="#555555"/>
<text transform="translate(189.20,523.80) scale(0.700,1)" x="0" y="0" font-size="16.5" font-weight="bold" fill="#fdecc4" font-family="Liberation Sans, sans-serif" textLength="100.00" lengthAdjust="spacing">TALLA / SIZE</text>
<text transform="translate(438.40,523.40) scale(0.700,1)" x="0" y="0" font-size="16.5" font-weight="bold" fill="#fdecc4" font-family="Liberation Sans, sans-serif" textLength="88.71" lengthAdjust="spacing">EDAD / AGE</text>
<text transform="translate(537.40,514.40) scale(0.700,1)" x="0" y="0" font-size="16.5" font-weight="bold" fill="#fdecc4" font-family="Liberation Sans, sans-serif" textLength="130.29" lengthAdjust="spacing">ALTURA / HEIGTH</text>
<text transform="translate(545.50,535.40) scale(0.700,1)" x="0" y="0" font-size="16.5" font-weight="bold" fill="#fdecc4" font-family="Liberation Sans, sans-serif" textLength="107.14" lengthAdjust="spacing">EN CM / IN CM</text>
<text transform="translate(651.00,514.40) scale(0.700,1)" x="0" y="0" font-size="16.5" font-weight="bold" fill="#fdecc4" font-family="Liberation Sans, sans-serif" textLength="115.71" lengthAdjust="spacing">PECHO / CHEST</text>
<text transform="translate(655.50,535.40) scale(0.700,1)" x="0" y="0" font-size="16.5" font-weight="bold" fill="#fdecc4" font-family="Liberation Sans, sans-serif" textLength="104.43" lengthAdjust="spacing">EN CM / IN CM</text>
<text transform="translate(754.00,514.40) scale(0.700,1)" x="0" y="0" font-size="16.5" font-weight="bold" fill="#fdecc4" font-family="Liberation Sans, sans-serif" textLength="132.86" lengthAdjust="spacing">CINTURA / WAIST</text>
<text transform="translate(763.00,535.40) scale(0.700,1)" x="0" y="0" font-size="16.5" font-weight="bold" fill="#fdecc4" font-family="Liberation Sans, sans-serif" textLength="107.14" lengthAdjust="spacing">EN CM / IN CM</text>
<text transform="translate(874.80,514.40) scale(0.700,1)" x="0" y="0" font-size="16.5" font-weight="bold" fill="#fdecc4" font-family="Liberation Sans, sans-serif" textLength="99.57" lengthAdjust="spacing">CADERA/ HIP</text>
<text transform="translate(873.00,535.40) scale(0.700,1)" x="0" y="0" font-size="16.5" font-weight="bold" fill="#fdecc4" font-family="Liberation Sans, sans-serif" textLength="107.14" lengthAdjust="spacing">EN CM / IN CM</text>
<text transform="translate(72.00,575.60) scale(0.700,1)" x="0" y="0" font-size="16.60" fill="#444444" font-family="Liberation Sans, sans-serif" textLength="46.57" lengthAdjust="spacing" stroke="#444444" stroke-width="0.22">BEBÉ</text>
<text transform="translate(72.00,602.00) scale(0.700,1)" x="0" y="0" font-size="16.60" fill="#444444" font-family="Liberation Sans, sans-serif" textLength="50.29" lengthAdjust="spacing" stroke="#444444" stroke-width="0.22">BABY</text>
<text transform="translate(72.00,650.00) scale(0.700,1)" x="0" y="0" font-size="16.60" fill="#444444" font-family="Liberation Sans, sans-serif" textLength="96.00" lengthAdjust="spacing" stroke="#444444" stroke-width="0.22">INFANTIL/</text>
<text transform="translate(72.00,675.80) scale(0.700,1)" x="0" y="0" font-size="16.60" fill="#444444" font-family="Liberation Sans, sans-serif" textLength="53.14" lengthAdjust="spacing" stroke="#444444" stroke-width="0.22">CHILD</text>
<text transform="translate(72.00,770.60) scale(0.700,1)" x="0" y="0" font-size="16.60" fill="#444444" font-family="Liberation Sans, sans-serif" textLength="76.86" lengthAdjust="spacing" stroke="#444444" stroke-width="0.22">HOMBRE</text>
<text transform="translate(72.00,797.00) scale(0.700,1)" x="0" y="0" font-size="16.60" fill="#444444" font-family="Liberation Sans, sans-serif" textLength="51.14" lengthAdjust="spacing" stroke="#444444" stroke-width="0.22">MALE</text>
<text transform="translate(72.00,908.20) scale(0.700,1)" x="0" y="0" font-size="16.60" fill="#444444" font-family="Liberation Sans, sans-serif" textLength="60.29" lengthAdjust="spacing" stroke="#444444" stroke-width="0.22">MUJER</text>
<text transform="translate(72.00,933.20) scale(0.700,1)" x="0" y="0" font-size="16.60" fill="#444444" font-family="Liberation Sans, sans-serif" textLength="74.57" lengthAdjust="spacing" stroke="#444444" stroke-width="0.22">FEMALE</text>
<text transform="translate(189.20,575.60) scale(0.700,1)" x="0" y="0" font-size="16.60" fill="#404040" font-family="Liberation Sans, sans-serif" textLength="44.57" lengthAdjust="spacing" stroke="#404040" stroke-width="0.22">T-NB</text>
<text transform="translate(451.15,575.60) scale(0.700,1)" x="0" y="0" font-size="16.60" fill="#404040" font-family="Liberation Sans, sans-serif" textLength="63.86" lengthAdjust="spacing" stroke="#404040" stroke-width="0.22">6-12 M</text>
<text transform="translate(561.90,575.60) scale(0.700,1)" x="0" y="0" font-size="16.60" fill="#404040" font-family="Liberation Sans, sans-serif" textLength="56.00" lengthAdjust="spacing" stroke="#404040" stroke-width="0.22">67-69</text>
<text transform="translate(684.85,575.60) scale(0.700,1)" x="0" y="0" font-size="16.60" fill="#404040" font-family="Liberation Sans, sans-serif" textLength="20.43" lengthAdjust="spacing" stroke="#404040" stroke-width="0.22">51</text>
<text transform="translate(793.85,575.60) scale(0.700,1)" x="0" y="0" font-size="16.60" fill="#404040" font-family="Liberation Sans, sans-serif" textLength="20.43" lengthAdjust="spacing" stroke="#404040" stroke-width="0.22">51</text>
<text transform="translate(903.35,575.60) scale(0.700,1)" x="0" y="0" font-size="16.60" fill="#404040" font-family="Liberation Sans, sans-serif" textLength="20.43" lengthAdjust="spacing" stroke="#404040" stroke-width="0.22">51</text>
<text transform="translate(189.20,601.90) scale(0.700,1)" x="0" y="0" font-size="16.60" fill="#404040" font-family="Liberation Sans, sans-serif" textLength="44.57" lengthAdjust="spacing" stroke="#404040" stroke-width="0.22">T-BB</text>
<text transform="translate(456.25,601.90) scale(0.700,1)" x="0" y="0" font-size="16.60" fill="#404040" font-family="Liberation Sans, sans-serif" textLength="49.29" lengthAdjust="spacing" stroke="#404040" stroke-width="0.22">1-2 A</text>
<text transform="translate(562.55,601.90) scale(0.700,1)" x="0" y="0" font-size="16.60" fill="#404040" font-family="Liberation Sans, sans-serif" textLength="54.14" lengthAdjust="spacing" stroke="#404040" stroke-width="0.22">80-91</text>
<text transform="translate(684.20,601.90) scale(0.700,1)" x="0" y="0" font-size="16.60" fill="#404040" font-family="Liberation Sans, sans-serif" textLength="22.29" lengthAdjust="spacing" stroke="#404040" stroke-width="0.22">54</text>
<text transform="translate(793.20,601.90) scale(0.700,1)" x="0" y="0" font-size="16.60" fill="#404040" font-family="Liberation Sans, sans-serif" textLength="22.29" lengthAdjust="spacing" stroke="#404040" stroke-width="0.22">52</text>
<text transform="translate(902.70,601.90) scale(0.700,1)" x="0" y="0" font-size="16.60" fill="#404040" font-family="Liberation Sans, sans-serif" textLength="22.29" lengthAdjust="spacing" stroke="#404040" stroke-width="0.22">55</text>
<text transform="translate(189.20,650.10) scale(0.700,1)" x="0" y="0" font-size="16.60" fill="#404040" font-family="Liberation Sans, sans-serif" textLength="31.71" lengthAdjust="spacing" stroke="#404040" stroke-width="0.22">T-0</text>
<text transform="translate(455.60,650.10) scale(0.700,1)" x="0" y="0" font-size="16.60" fill="#404040" font-family="Liberation Sans, sans-serif" textLength="51.14" lengthAdjust="spacing" stroke="#404040" stroke-width="0.22">3-4 A</text>
<text transform="translate(558.40,650.10) scale(0.700,1)" x="0" y="0" font-size="16.60" fill="#404040" font-family="Liberation Sans, sans-serif" textLength="66.00" lengthAdjust="spacing" stroke="#404040" stroke-width="0.22">92-104</text>
<text transform="translate(684.20,650.10) scale(0.700,1)" x="0" y="0" font-size="16.60" fill="#404040" font-family="Liberation Sans, sans-serif" textLength="22.29" lengthAdjust="spacing" stroke="#404040" stroke-width="0.22">58</text>
<text transform="translate(793.20,650.10) scale(0.700,1)" x="0" y="0" font-size="16.60" fill="#404040" font-family="Liberation Sans, sans-serif" textLength="22.29" lengthAdjust="spacing" stroke="#404040" stroke-width="0.22">56</text>
<text transform="translate(902.70,650.10) scale(0.700,1)" x="0" y="0" font-size="16.60" fill="#404040" font-family="Liberation Sans, sans-serif" textLength="22.29" lengthAdjust="spacing" stroke="#404040" stroke-width="0.22">59</text>
<text transform="translate(189.20,676.10) scale(0.700,1)" x="0" y="0" font-size="16.60" fill="#404040" font-family="Liberation Sans, sans-serif" textLength="29.43" lengthAdjust="spacing" stroke="#404040" stroke-width="0.22">T-1</text>
<text transform="translate(455.60,676.10) scale(0.700,1)" x="0" y="0" font-size="16.60" fill="#404040" font-family="Liberation Sans, sans-serif" textLength="51.14" lengthAdjust="spacing" stroke="#404040" stroke-width="0.22">5-6 A</text>
<text transform="translate(555.55,676.10) scale(0.700,1)" x="0" y="0" font-size="16.60" fill="#404040" font-family="Liberation Sans, sans-serif" textLength="74.14" lengthAdjust="spacing" stroke="#404040" stroke-width="0.22">105-121</text>
<text transform="translate(684.20,676.10) scale(0.700,1)" x="0" y="0" font-size="16.60" fill="#404040" font-family="Liberation Sans, sans-serif" textLength="22.29" lengthAdjust="spacing" stroke="#404040" stroke-width="0.22">64</text>
<text transform="translate(793.20,676.10) scale(0.700,1)" x="0" y="0" font-size="16.60" fill="#404040" font-family="Liberation Sans, sans-serif" textLength="22.29" lengthAdjust="spacing" stroke="#404040" stroke-width="0.22">59</text>
<text transform="translate(902.70,676.10) scale(0.700,1)" x="0" y="0" font-size="16.60" fill="#404040" font-family="Liberation Sans, sans-serif" textLength="22.29" lengthAdjust="spacing" stroke="#404040" stroke-width="0.22">68</text>
<text transform="translate(189.20,702.40) scale(0.700,1)" x="0" y="0" font-size="16.60" fill="#404040" font-family="Liberation Sans, sans-serif" textLength="31.71" lengthAdjust="spacing" stroke="#404040" stroke-width="0.22">T-2</text>
<text transform="translate(455.60,702.40) scale(0.700,1)" x="0" y="0" font-size="16.60" fill="#404040" font-family="Liberation Sans, sans-serif" textLength="51.14" lengthAdjust="spacing" stroke="#404040" stroke-width="0.22">7-9 A</text>
<text transform="translate(554.90,702.40) scale(0.700,1)" x="0" y="0" font-size="16.60" fill="#404040" font-family="Liberation Sans, sans-serif" textLength="76.00" lengthAdjust="spacing" stroke="#404040" stroke-width="0.22">122-138</text>
<text transform="translate(684.20,702.40) scale(0.700,1)" x="0" y="0" font-size="16.60" fill="#404040" font-family="Liberation Sans, sans-serif" textLength="22.29" lengthAdjust="spacing" stroke="#404040" stroke-width="0.22">70</text>
<text transform="translate(793.20,702.40) scale(0.700,1)" x="0" y="0" font-size="16.60" fill="#404040" font-family="Liberation Sans, sans-serif" textLength="22.29" lengthAdjust="spacing" stroke="#404040" stroke-width="0.22">65</text>
<text transform="translate(902.70,702.40) scale(0.700,1)" x="0" y="0" font-size="16.60" fill="#404040" font-family="Liberation Sans, sans-serif" textLength="22.29" lengthAdjust="spacing" stroke="#404040" stroke-width="0.22">76</text>
<text transform="translate(189.20,728.50) scale(0.700,1)" x="0" y="0" font-size="16.60" fill="#404040" font-family="Liberation Sans, sans-serif" textLength="31.71" lengthAdjust="spacing" stroke="#404040" stroke-width="0.22">T-3</text>
<text transform="translate(448.60,728.50) scale(0.700,1)" x="0" y="0" font-size="16.60" fill="#404040" font-family="Liberation Sans, sans-serif" textLength="71.14" lengthAdjust="spacing" stroke="#404040" stroke-width="0.22">10-12 A</text>
<text transform="translate(554.90,728.50) scale(0.700,1)" x="0" y="0" font-size="16.60" fill="#404040" font-family="Liberation Sans, sans-serif" textLength="76.00" lengthAdjust="spacing" stroke="#404040" stroke-width="0.22">139-155</text>
<text transform="translate(684.20,728.50) scale(0.700,1)" x="0" y="0" font-size="16.60" fill="#404040" font-family="Liberation Sans, sans-serif" textLength="22.29" lengthAdjust="spacing" stroke="#404040" stroke-width="0.22">80</text>
<text transform="translate(793.20,728.50) scale(0.700,1)" x="0" y="0" font-size="16.60" fill="#404040" font-family="Liberation Sans, sans-serif" textLength="22.29" lengthAdjust="spacing" stroke="#404040" stroke-width="0.22">70</text>
<text transform="translate(902.70,728.50) scale(0.700,1)" x="0" y="0" font-size="16.60" fill="#404040" font-family="Liberation Sans, sans-serif" textLength="22.29" lengthAdjust="spacing" stroke="#404040" stroke-width="0.22">85</text>
<text transform="translate(189.20,775.40) scale(0.700,1)" x="0" y="0" font-size="16.60" fill="#2a3a4a" font-family="Liberation Sans, sans-serif" textLength="189.29" lengthAdjust="spacing" stroke="#2a3a4a" stroke-width="0.22">T-S TALLA/SIZE 48</text>
<text transform="translate(462.20,775.40) scale(0.700,1)" x="0" y="0" font-size="16.60" fill="#2a3a4a" font-family="Liberation Sans, sans-serif" textLength="32.29" lengthAdjust="spacing" stroke="#2a3a4a" stroke-width="0.22">+12</text>
<text transform="translate(570.20,775.40) scale(0.700,1)" x="0" y="0" font-size="16.60" fill="#2a3a4a" font-family="Liberation Sans, sans-serif" textLength="32.29" lengthAdjust="spacing" stroke="#2a3a4a" stroke-width="0.22">170</text>
<text transform="translate(684.20,775.40) scale(0.700,1)" x="0" y="0" font-size="16.60" fill="#2a3a4a" font-family="Liberation Sans, sans-serif" textLength="22.29" lengthAdjust="spacing" stroke="#2a3a4a" stroke-width="0.22">95</text>
<text transform="translate(793.20,775.40) scale(0.700,1)" x="0" y="0" font-size="16.60" fill="#2a3a4a" font-family="Liberation Sans, sans-serif" textLength="22.29" lengthAdjust="spacing" stroke="#2a3a4a" stroke-width="0.22">90</text>
<text transform="translate(899.20,775.40) scale(0.700,1)" x="0" y="0" font-size="16.60" fill="#2a3a4a" font-family="Liberation Sans, sans-serif" textLength="32.29" lengthAdjust="spacing" stroke="#2a3a4a" stroke-width="0.22">100</text>
<text transform="translate(189.20,801.40) scale(0.700,1)" x="0" y="0" font-size="16.60" fill="#2a3a4a" font-family="Liberation Sans, sans-serif" textLength="203.57" lengthAdjust="spacing" stroke="#2a3a4a" stroke-width="0.22">T-ML TALLA/SIZE 52</text>
<text transform="translate(462.20,801.40) scale(0.700,1)" x="0" y="0" font-size="16.60" fill="#2a3a4a" font-family="Liberation Sans, sans-serif" textLength="32.29" lengthAdjust="spacing" stroke="#2a3a4a" stroke-width="0.22">+12</text>
<text transform="translate(570.20,801.40) scale(0.700,1)" x="0" y="0" font-size="16.60" fill="#2a3a4a" font-family="Liberation Sans, sans-serif" textLength="32.29" lengthAdjust="spacing" stroke="#2a3a4a" stroke-width="0.22">182</text>
<text transform="translate(681.35,801.40) scale(0.700,1)" x="0" y="0" font-size="16.60" fill="#2a3a4a" font-family="Liberation Sans, sans-serif" textLength="30.43" lengthAdjust="spacing" stroke="#2a3a4a" stroke-width="0.22">112</text>
<text transform="translate(789.70,801.40) scale(0.700,1)" x="0" y="0" font-size="16.60" fill="#2a3a4a" font-family="Liberation Sans, sans-serif" textLength="32.29" lengthAdjust="spacing" stroke="#2a3a4a" stroke-width="0.22">104</text>
<text transform="translate(899.85,801.40) scale(0.700,1)" x="0" y="0" font-size="16.60" fill="#2a3a4a" font-family="Liberation Sans, sans-serif" textLength="30.43" lengthAdjust="spacing" stroke="#2a3a4a" stroke-width="0.22">118</text>
<text transform="translate(189.20,827.50) scale(0.700,1)" x="0" y="0" font-size="16.60" fill="#2a3a4a" font-family="Liberation Sans, sans-serif" textLength="200.71" lengthAdjust="spacing" stroke="#2a3a4a" stroke-width="0.22">T-XL TALLA/SIZE 56</text>
<text transform="translate(462.20,827.50) scale(0.700,1)" x="0" y="0" font-size="16.60" fill="#2a3a4a" font-family="Liberation Sans, sans-serif" textLength="32.29" lengthAdjust="spacing" stroke="#2a3a4a" stroke-width="0.22">+16</text>
<text transform="translate(570.20,827.50) scale(0.700,1)" x="0" y="0" font-size="16.60" fill="#2a3a4a" font-family="Liberation Sans, sans-serif" textLength="32.29" lengthAdjust="spacing" stroke="#2a3a4a" stroke-width="0.22">186</text>
<text transform="translate(680.70,827.50) scale(0.700,1)" x="0" y="0" font-size="16.60" fill="#2a3a4a" font-family="Liberation Sans, sans-serif" textLength="32.29" lengthAdjust="spacing" stroke="#2a3a4a" stroke-width="0.22">122</text>
<text transform="translate(790.35,827.50) scale(0.700,1)" x="0" y="0" font-size="16.60" fill="#2a3a4a" font-family="Liberation Sans, sans-serif" textLength="30.43" lengthAdjust="spacing" stroke="#2a3a4a" stroke-width="0.22">114</text>
<text transform="translate(899.20,827.50) scale(0.700,1)" x="0" y="0" font-size="16.60" fill="#2a3a4a" font-family="Liberation Sans, sans-serif" textLength="32.29" lengthAdjust="spacing" stroke="#2a3a4a" stroke-width="0.22">126</text>
<text transform="translate(189.20,853.70) scale(0.700,1)" x="0" y="0" font-size="16.60" fill="#2a3a4a" font-family="Liberation Sans, sans-serif" textLength="215.00" lengthAdjust="spacing" stroke="#2a3a4a" stroke-width="0.22">T-XXL TALLA/SIZE 62</text>
<text transform="translate(462.20,853.70) scale(0.700,1)" x="0" y="0" font-size="16.60" fill="#2a3a4a" font-family="Liberation Sans, sans-serif" textLength="32.29" lengthAdjust="spacing" stroke="#2a3a4a" stroke-width="0.22">+16</text>
<text transform="translate(570.20,853.70) scale(0.700,1)" x="0" y="0" font-size="16.60" fill="#2a3a4a" font-family="Liberation Sans, sans-serif" textLength="32.29" lengthAdjust="spacing" stroke="#2a3a4a" stroke-width="0.22">186</text>
<text transform="translate(680.70,853.70) scale(0.700,1)" x="0" y="0" font-size="16.60" fill="#2a3a4a" font-family="Liberation Sans, sans-serif" textLength="32.29" lengthAdjust="spacing" stroke="#2a3a4a" stroke-width="0.22">132</text>
<text transform="translate(789.70,853.70) scale(0.700,1)" x="0" y="0" font-size="16.60" fill="#2a3a4a" font-family="Liberation Sans, sans-serif" textLength="32.29" lengthAdjust="spacing" stroke="#2a3a4a" stroke-width="0.22">124</text>
<text transform="translate(899.20,853.70) scale(0.700,1)" x="0" y="0" font-size="16.60" fill="#2a3a4a" font-family="Liberation Sans, sans-serif" textLength="32.29" lengthAdjust="spacing" stroke="#2a3a4a" stroke-width="0.22">130</text>
<text transform="translate(189.20,901.80) scale(0.700,1)" x="0" y="0" font-size="16.60" fill="#4a2a3a" font-family="Liberation Sans, sans-serif" textLength="189.29" lengthAdjust="spacing" stroke="#4a2a3a" stroke-width="0.22">T-S TALLA/SIZE 38</text>
<text transform="translate(462.20,901.80) scale(0.700,1)" x="0" y="0" font-size="16.60" fill="#4a2a3a" font-family="Liberation Sans, sans-serif" textLength="32.29" lengthAdjust="spacing" stroke="#4a2a3a" stroke-width="0.22">+12</text>
<text transform="translate(570.20,901.80) scale(0.700,1)" x="0" y="0" font-size="16.60" fill="#4a2a3a" font-family="Liberation Sans, sans-serif" textLength="32.29" lengthAdjust="spacing" stroke="#4a2a3a" stroke-width="0.22">160</text>
<text transform="translate(684.20,901.80) scale(0.700,1)" x="0" y="0" font-size="16.60" fill="#4a2a3a" font-family="Liberation Sans, sans-serif" textLength="22.29" lengthAdjust="spacing" stroke="#4a2a3a" stroke-width="0.22">90</text>
<text transform="translate(793.20,901.80) scale(0.700,1)" x="0" y="0" font-size="16.60" fill="#4a2a3a" font-family="Liberation Sans, sans-serif" textLength="22.29" lengthAdjust="spacing" stroke="#4a2a3a" stroke-width="0.22">75</text>
<text transform="translate(902.70,901.80) scale(0.700,1)" x="0" y="0" font-size="16.60" fill="#4a2a3a" font-family="Liberation Sans, sans-serif" textLength="22.29" lengthAdjust="spacing" stroke="#4a2a3a" stroke-width="0.22">95</text>
<text transform="translate(189.20,927.60) scale(0.700,1)" x="0" y="0" font-size="16.60" fill="#4a2a3a" font-family="Liberation Sans, sans-serif" textLength="203.57" lengthAdjust="spacing" stroke="#4a2a3a" stroke-width="0.22">T-ML TALLA/SIZE 42</text>
<text transform="translate(462.20,927.60) scale(0.700,1)" x="0" y="0" font-size="16.60" fill="#4a2a3a" font-family="Liberation Sans, sans-serif" textLength="32.29" lengthAdjust="spacing" stroke="#4a2a3a" stroke-width="0.22">+12</text>
<text transform="translate(570.20,927.60) scale(0.700,1)" x="0" y="0" font-size="16.60" fill="#4a2a3a" font-family="Liberation Sans, sans-serif" textLength="32.29" lengthAdjust="spacing" stroke="#4a2a3a" stroke-width="0.22">170</text>
<text transform="translate(680.70,927.60) scale(0.700,1)" x="0" y="0" font-size="16.60" fill="#4a2a3a" font-family="Liberation Sans, sans-serif" textLength="32.29" lengthAdjust="spacing" stroke="#4a2a3a" stroke-width="0.22">102</text>
<text transform="translate(793.20,927.60) scale(0.700,1)" x="0" y="0" font-size="16.60" fill="#4a2a3a" font-family="Liberation Sans, sans-serif" textLength="22.29" lengthAdjust="spacing" stroke="#4a2a3a" stroke-width="0.22">86</text>
<text transform="translate(899.20,927.60) scale(0.700,1)" x="0" y="0" font-size="16.60" fill="#4a2a3a" font-family="Liberation Sans, sans-serif" textLength="32.29" lengthAdjust="spacing" stroke="#4a2a3a" stroke-width="0.22">107</text>
<text transform="translate(189.20,953.80) scale(0.700,1)" x="0" y="0" font-size="16.60" fill="#4a2a3a" font-family="Liberation Sans, sans-serif" textLength="200.71" lengthAdjust="spacing" stroke="#4a2a3a" stroke-width="0.22">T-XL TALLA/SIZE 46</text>
<text transform="translate(462.20,953.80) scale(0.700,1)" x="0" y="0" font-size="16.60" fill="#4a2a3a" font-family="Liberation Sans, sans-serif" textLength="32.29" lengthAdjust="spacing" stroke="#4a2a3a" stroke-width="0.22">+16</text>
<text transform="translate(570.20,953.80) scale(0.700,1)" x="0" y="0" font-size="16.60" fill="#4a2a3a" font-family="Liberation Sans, sans-serif" textLength="32.29" lengthAdjust="spacing" stroke="#4a2a3a" stroke-width="0.22">172</text>
<text transform="translate(681.35,953.80) scale(0.700,1)" x="0" y="0" font-size="16.60" fill="#4a2a3a" font-family="Liberation Sans, sans-serif" textLength="30.43" lengthAdjust="spacing" stroke="#4a2a3a" stroke-width="0.22">112</text>
<text transform="translate(793.20,953.80) scale(0.700,1)" x="0" y="0" font-size="16.60" fill="#4a2a3a" font-family="Liberation Sans, sans-serif" textLength="22.29" lengthAdjust="spacing" stroke="#4a2a3a" stroke-width="0.22">96</text>
<text transform="translate(899.85,953.80) scale(0.700,1)" x="0" y="0" font-size="16.60" fill="#4a2a3a" font-family="Liberation Sans, sans-serif" textLength="30.43" lengthAdjust="spacing" stroke="#4a2a3a" stroke-width="0.22">117</text>
<text transform="translate(189.20,980.30) scale(0.700,1)" x="0" y="0" font-size="16.60" fill="#4a2a3a" font-family="Liberation Sans, sans-serif" textLength="215.00" lengthAdjust="spacing" stroke="#4a2a3a" stroke-width="0.22">T-XXL TALLA/SIZE 52</text>
<text transform="translate(462.20,980.30) scale(0.700,1)" x="0" y="0" font-size="16.60" fill="#4a2a3a" font-family="Liberation Sans, sans-serif" textLength="32.29" lengthAdjust="spacing" stroke="#4a2a3a" stroke-width="0.22">+16</text>
<text transform="translate(570.20,980.30) scale(0.700,1)" x="0" y="0" font-size="16.60" fill="#4a2a3a" font-family="Liberation Sans, sans-serif" textLength="32.29" lengthAdjust="spacing" stroke="#4a2a3a" stroke-width="0.22">172</text>
<text transform="translate(680.70,980.30) scale(0.700,1)" x="0" y="0" font-size="16.60" fill="#4a2a3a" font-family="Liberation Sans, sans-serif" textLength="32.29" lengthAdjust="spacing" stroke="#4a2a3a" stroke-width="0.22">122</text>
<text transform="translate(790.35,980.30) scale(0.700,1)" x="0" y="0" font-size="16.60" fill="#4a2a3a" font-family="Liberation Sans, sans-serif" textLength="30.43" lengthAdjust="spacing" stroke="#4a2a3a" stroke-width="0.22">110</text>
<text transform="translate(899.20,980.30) scale(0.700,1)" x="0" y="0" font-size="16.60" fill="#4a2a3a" font-family="Liberation Sans, sans-serif" textLength="32.29" lengthAdjust="spacing" stroke="#4a2a3a" stroke-width="0.22">130</text>
<rect x="50.00" y="991.00" width="928.00" height="9.00" fill="#f1f1f1"/>
<rect x="236.00" y="992.00" width="250.50" height="5.80" fill="#c1c1c1"/>
<path d="M56.5,997.5 L59.5,995 L59.5,1000 Z" fill="#505050"/>
<path d="M971.5,997.5 L968.5,995 L968.5,1000 Z" fill="#a0a0a0"/>
<rect x="980.50" y="492.50" width="7.50" height="507.50" fill="#f1f1f1"/>
<rect x="983.00" y="507.50" width="3.30" height="18.00" fill="#c1c1c1"/>
<path d="M984.3,495.5 L982.3,498.5 L986.3,498.5 Z" fill="#a0a0a0"/></svg>
</body></html>
